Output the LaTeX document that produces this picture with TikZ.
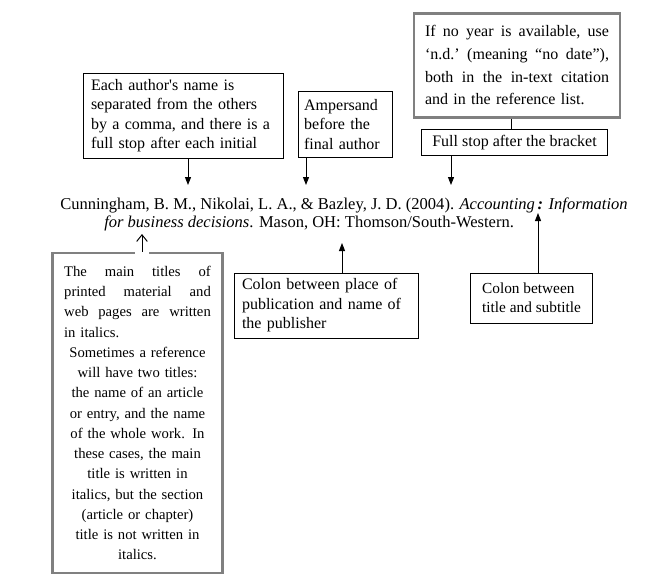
\documentclass[tikz,border=0pt]{standalone}
\usepackage{fontspec}
\setmainfont{Liberation Serif}
\usetikzlibrary{arrows.meta, positioning}
\definecolor{framegray}{RGB}{128, 128, 128}
\definecolor{inkblack}{RGB}{0, 0, 0}
\newcommand{\jgap}{\hspace{0pt plus 1fill}}

\begin{document}
\begin{tikzpicture}[x=0.75pt, y=-0.75pt,
            note/.style={draw=inkblack, line width=0.75pt, inner xsep=7pt, inner ysep=3pt, font=\fontsize{12}{14.6}\selectfont},
            grnote/.style={draw=framegray, line width=2.2pt, inner xsep=7pt, inner ysep=3pt, font=\fontsize{12}{15.2}\selectfont},
            refline/.style={inner sep=0pt, anchor=base west, font=\fontsize{12.4}{13}\selectfont},
            tip/.style={-{Triangle[length=6pt, width=4.5pt]}, line width=0.75pt},
            opentip/.style={-{Straight Barb[length=5pt, width=8pt]}, line width=0.75pt}
        ]
            \useasboundingbox (0,0) rectangle (667,583);

            % the reference itself
            \node[refline] (ref1) at (60,209) {Cunningham, B. M., Nikolai, L. A., \& Bazley, J. D. (2004). \textit{Accounting\,\textbf{:} Information}};
            \node[refline] (ref2) at (104,227) {\textit{for business decisions}. Mason, OH: Thomson/South-Western.};

            % notes above
            \node[note, minimum width=150pt, minimum height=63.75pt, text width=138pt, inner xsep=6pt, align=left] (names) at (183,115.5) {Each author\textquotesingle s name is\\separated from the others\\by a comma, and there is a\\full stop after each initial};
            \node[note, minimum width=71pt, minimum height=50pt, text width=62pt, inner xsep=4pt, xshift=3pt, align=left] (amp) at (341.5,124.5) {Ampersand\\before the\\final author};
            \node[grnote, minimum width=154.5pt, minimum height=78pt, text width=138pt, anchor=north, inner ysep=3.5pt, align=left, font=\fontsize{12}{17}\selectfont] (nodate) at (517,12) {If\jgap no\jgap year\jgap is\jgap available,\jgap use\\‘n.d.’\jgap (meaning\jgap “no\jgap date”),\\both\jgap in\jgap the\jgap in-text\jgap citation\\and in the reference list.\\[12.5pt]};
            \node[note, minimum width=140pt, minimum height=20pt] (stop) at (514.5,142.5) {Full stop after the bracket};

            % notes below
            \node[grnote, minimum width=127pt, minimum height=240pt, text width=110pt, align=center, font=\fontsize{11}{15.2}\selectfont] (italic) at (137.5,413) {The\jgap main\jgap titles\jgap of\\printed\jgap material\jgap and\\web\jgap pages\jgap are\jgap written\\\makebox[\hsize][l]{in italics.}\\Sometimes a reference\\will have two titles:\\the name of an article\\or entry, and the name\\of the whole work. In\\these cases, the main\\title is written in\\italics, but the section\\(article or chapter)\\title is not written in\\italics.};
            \node[note, minimum width=138pt, minimum height=48.75pt, text width=126pt, inner xsep=6pt, align=left] (place) at (326,305.5) {Colon between place of\\publication and name of\\the publisher};
            \node[note, minimum width=92pt, minimum height=37.5pt, align=left, font=\fontsize{11.5}{14.6}\selectfont] (sub) at (531.5,298) {Colon between\\title and subtitle};

            % where the arrows meet the reference
            \coordinate (pComma) at (188,185);
            \coordinate (pAmp) at (306,185);
            \coordinate (pStop) at (451,185);
            \coordinate (pLink) at (511,0);
            \coordinate (pItalic) at (142,234);
            \coordinate (pPlace) at (342,243);
            \coordinate (pColon) at (538,213);

            \draw[tip] (names.south -| pComma) -- (pComma);
            \draw[tip] (amp.south -| pAmp) -- (pAmp);
            \draw[line width=0.75pt] (nodate.south -| pLink) -- (stop.north -| pLink);
            \draw[tip] (stop.south -| pStop) -- (pStop);
            % gap in the frame where the arrow leaves
            \draw[white, line width=3pt] ([xshift=-5pt]italic.north -| pItalic) -- ([xshift=5pt]italic.north -| pItalic);
            \draw[opentip] (italic.north -| pItalic) -- (pItalic);
            \draw[tip] (place.north -| pPlace) -- (pPlace);
            \draw[tip] (sub.north -| pColon) -- (pColon);
        \end{tikzpicture}
\end{document}
